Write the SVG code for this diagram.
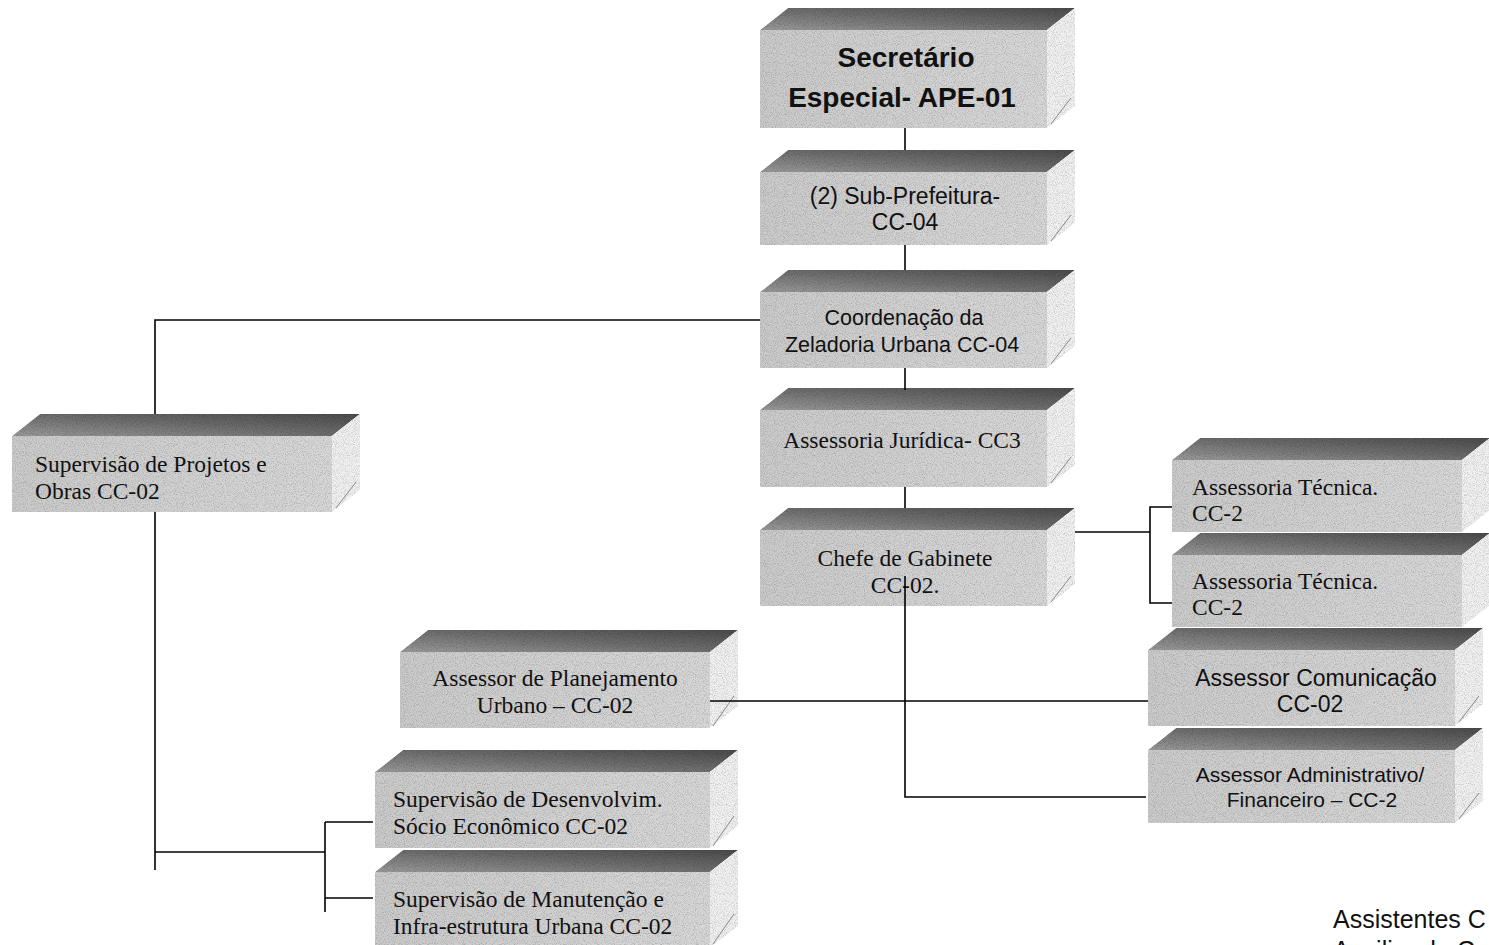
<svg xmlns="http://www.w3.org/2000/svg" width="1489" height="945" viewBox="0 0 1489 945">
<defs>
<filter id="grain" x="0" y="0" width="100%" height="100%" color-interpolation-filters="sRGB">
<feTurbulence type="fractalNoise" baseFrequency="1.1" numOctaves="1" seed="4" result="n"/>
<feColorMatrix in="n" type="saturate" values="0" result="g"/>
<feComponentTransfer in="g" result="g2">
<feFuncR type="linear" slope="0.7" intercept="0.62"/>
<feFuncG type="linear" slope="0.7" intercept="0.62"/>
<feFuncB type="linear" slope="0.7" intercept="0.62"/>
<feFuncA type="linear" slope="0" intercept="1"/>
</feComponentTransfer>
<feBlend in="SourceGraphic" in2="g2" mode="multiply" result="b"/>
<feComposite in="b" in2="SourceGraphic" operator="in"/>
</filter>
<linearGradient id="gTop" x1="0" y1="1" x2="1" y2="0">
<stop offset="0" stop-color="#9a9a9a"/>
<stop offset="0.5" stop-color="#6e6e6e"/>
<stop offset="1" stop-color="#4a4a4a"/>
</linearGradient>
<linearGradient id="gFront" x1="0" y1="0" x2="1" y2="0">
<stop offset="0" stop-color="#cbcbcb"/>
<stop offset="1" stop-color="#d8d8d8"/>
</linearGradient>
</defs>
<style>
.top{fill:url(#gTop);filter:url(#grain)}
.front{fill:url(#gFront);filter:url(#grain)}
.side{fill:#f1f1f1;filter:url(#grain)}
.tick{stroke:#8a8a8a;stroke-width:1;fill:none}
.conn{stroke:#000;stroke-width:1.6;fill:none}
.tn{font-family:"Liberation Serif","Times New Roman",serif;font-size:23.5px;fill:#111}
.ar{font-family:"Liberation Sans",Arial,sans-serif;fill:#111}
.mid{text-anchor:middle}
</style>
<rect width="1489" height="945" fill="#ffffff"/>

<g id="node-secretario">
<polygon class="top" points="760,30 788,8 1075,8 1047,30"/>
<rect class="front" x="760" y="30" width="287" height="98"/>
<polygon class="side" points="1047,30 1075,8 1075,106 1047,128"/>
<line class="tick" x1="1051" y1="124" x2="1071" y2="98"/>
<text class="ar mid" x="906" y="67" font-size="28" font-weight="bold">Secretário</text>
<text class="ar mid" x="902" y="107" font-size="28" font-weight="bold">Especial- APE-01</text>
</g>

<g id="node-subprefeitura">
<polygon class="top" points="760,172 788,150 1075,150 1047,172"/>
<rect class="front" x="760" y="172" width="287" height="73"/>
<polygon class="side" points="1047,172 1075,150 1075,223 1047,245"/>
<line class="tick" x1="1051" y1="241" x2="1071" y2="215"/>
<text class="ar mid" x="905" y="204" font-size="23">(2) Sub-Prefeitura-</text>
<text class="ar mid" x="905" y="230" font-size="23">CC-04</text>
</g>

<g id="node-coordenacao">
<polygon class="top" points="760,292 788,270 1075,270 1047,292"/>
<rect class="front" x="760" y="292" width="287" height="76"/>
<polygon class="side" points="1047,292 1075,270 1075,346 1047,368"/>
<line class="tick" x1="1051" y1="364" x2="1071" y2="338"/>
<text class="ar mid" x="904" y="325" font-size="21.5">Coordenação da</text>
<text class="ar mid" x="902" y="352" font-size="21.5">Zeladoria Urbana CC-04</text>
</g>

<g id="node-juridica">
<polygon class="top" points="760,410 788,388 1075,388 1047,410"/>
<rect class="front" x="760" y="410" width="287" height="77"/>
<polygon class="side" points="1047,410 1075,388 1075,465 1047,487"/>
<line class="tick" x1="1051" y1="483" x2="1071" y2="457"/>
<text class="tn mid" x="902" y="448">Assessoria Jurídica- CC3</text>
</g>

<g id="node-chefe">
<polygon class="top" points="760,530 788,508 1075,508 1047,530"/>
<rect class="front" x="760" y="530" width="287" height="76"/>
<polygon class="side" points="1047,530 1075,508 1075,584 1047,606"/>
<line class="tick" x1="1051" y1="602" x2="1071" y2="576"/>
<text class="tn mid" x="905" y="566">Chefe de Gabinete</text>
<text class="tn mid" x="905" y="593">CC-02.</text>
</g>

<g id="node-projetos">
<polygon class="top" points="12,436 40,414 360,414 332,436"/>
<rect class="front" x="12" y="436" width="320" height="76"/>
<polygon class="side" points="332,436 360,414 360,490 332,512"/>
<line class="tick" x1="336" y1="508" x2="356" y2="482"/>
<text class="tn" x="35" y="472">Supervisão de Projetos e</text>
<text class="tn" x="35" y="499">Obras CC-02</text>
</g>

<g id="node-planejamento">
<polygon class="top" points="400,652 428,630 738,630 710,652"/>
<rect class="front" x="400" y="652" width="310" height="76"/>
<polygon class="side" points="710,652 738,630 738,706 710,728"/>
<line class="tick" x1="713" y1="726" x2="734" y2="696"/>
<text class="tn mid" x="555" y="686">Assessor de Planejamento</text>
<text class="tn mid" x="555" y="713">Urbano – CC-02</text>
</g>

<g id="node-desenvolvimento">
<polygon class="top" points="375,772 403,750 738,750 710,772"/>
<rect class="front" x="375" y="772" width="335" height="76"/>
<polygon class="side" points="710,772 738,750 738,826 710,848"/>
<line class="tick" x1="713" y1="846" x2="734" y2="816"/>
<text class="tn" x="393" y="807">Supervisão de Desenvolvim.</text>
<text class="tn" x="393" y="834">Sócio Econômico CC-02</text>
</g>

<g id="node-manutencao">
<polygon class="top" points="375,872 403,850 738,850 710,872"/>
<rect class="front" x="375" y="872" width="335" height="76"/>
<polygon class="side" points="710,872 738,850 738,926 710,948"/>
<line class="tick" x1="713" y1="944" x2="734" y2="914"/>
<text class="tn" x="393" y="907">Supervisão de Manutenção e</text>
<text class="tn" x="393" y="934">Infra-estrutura Urbana CC-02</text>
</g>

<g id="node-tecnica1">
<polygon class="top" points="1172,460 1200,438 1490,438 1462,460"/>
<rect class="front" x="1172" y="460" width="290" height="72"/>
<polygon class="side" points="1462,460 1490,438 1490,510 1462,532"/>
<text class="tn" x="1192" y="495">Assessoria Técnica.</text>
<text class="tn" x="1192" y="521">CC-2</text>
</g>

<g id="node-tecnica2">
<polygon class="top" points="1172,555 1200,533 1490,533 1462,555"/>
<rect class="front" x="1172" y="555" width="290" height="72"/>
<polygon class="side" points="1462,555 1490,533 1490,605 1462,627"/>
<text class="tn" x="1192" y="589">Assessoria Técnica.</text>
<text class="tn" x="1192" y="615">CC-2</text>
</g>

<g id="node-comunicacao">
<polygon class="top" points="1148,650 1176,628 1483,628 1455,650"/>
<rect class="front" x="1148" y="650" width="307" height="76"/>
<polygon class="side" points="1455,650 1483,628 1483,704 1455,726"/>
<line class="tick" x1="1459" y1="722" x2="1479" y2="696"/>
<text class="ar mid" x="1316" y="686" font-size="23">Assessor Comunicação</text>
<text class="ar mid" x="1310" y="712" font-size="23">CC-02</text>
</g>

<g id="node-administrativo">
<polygon class="top" points="1148,750 1176,728 1483,728 1455,750"/>
<rect class="front" x="1148" y="750" width="307" height="73"/>
<polygon class="side" points="1455,750 1483,728 1483,801 1455,823"/>
<line class="tick" x1="1459" y1="819" x2="1479" y2="793"/>
<text class="ar mid" x="1310" y="782" font-size="21">Assessor Administrativo/</text>
<text class="ar mid" x="1312" y="807" font-size="21">Financeiro – CC-2</text>
</g>

<g id="connectors">
<line class="conn" x1="905" y1="128" x2="905" y2="150"/>
<line class="conn" x1="905" y1="245" x2="905" y2="270"/>
<line class="conn" x1="905" y1="368" x2="905" y2="390"/>
<line class="conn" x1="905" y1="487" x2="905" y2="508"/>
<polyline class="conn" points="905,576 905,797 1146,797"/>
<polyline class="conn" points="760,320 155,320 155,414"/>
<line class="conn" x1="155" y1="512" x2="155" y2="870"/>
<line class="conn" x1="155" y1="852" x2="325" y2="852"/>
<line class="conn" x1="325" y1="822" x2="325" y2="912"/>
<line class="conn" x1="325" y1="822" x2="373" y2="822"/>
<line class="conn" x1="325" y1="898" x2="373" y2="898"/>
<line class="conn" x1="1075" y1="532" x2="1150" y2="532"/>
<polyline class="conn" points="1172,507 1150,507 1150,603 1172,603"/>
<line class="conn" x1="710" y1="701" x2="1148" y2="701"/>
</g>

<text class="ar" x="1333" y="928" font-size="25">Assistentes C</text>
<text class="ar" x="1333" y="959" font-size="25">Auxiliar de C</text>
</svg>
